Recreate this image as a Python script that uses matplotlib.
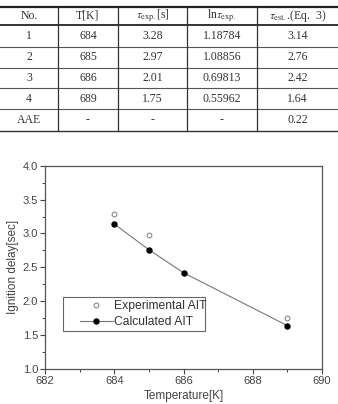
import matplotlib
matplotlib.use("Agg")
import matplotlib.pyplot as plt
from matplotlib.patches import Rectangle

# ---- data ----
col_headers = ["No.", "T[K]", r"$\tau_{\rm exp.}$[s]", r"ln$\tau_{\rm exp.}$", r"$\tau_{\rm est.}$.(Eq.  3)"]
row_no = ["1", "2", "3", "4", "AAE"]
row_T = ["684", "685", "686", "689", "-"]
row_tau_exp = ["3.28", "2.97", "2.01", "1.75", "-"]
row_ln_tau = ["1.18784", "1.08856", "0.69813", "0.55962", "-"]
row_tau_est = ["3.14", "2.76", "2.42", "1.64", "0.22"]

temp = [684, 685, 686, 689]
exp_ait = [3.28, 2.97, 2.01, 1.75]
calc_ait = [3.14, 2.76, 2.42, 1.64]
xticks = [682, 684, 686, 688, 690]
yticks = [1.0, 1.5, 2.0, 2.5, 3.0, 3.5, 4.0]

plt.rcParams['mathtext.fontset'] = 'stix'

W, H = 338, 404
fig = plt.figure(figsize=(W / 100, H / 100), dpi=100)

# ---- table (pixel coordinates) ----
tax = fig.add_axes([0, 0, 1, 1])
tax.set_xlim(0, W)
tax.set_ylim(H, 0)
tax.axis('off')

col_edges = [0, 58, 118, 187, 257, 338]
hline_y = [6.7, 24.7, 46.7, 67.7, 88.3, 109, 130.7]
tcol = '#333333'

tax.plot([0, W], [hline_y[0]] * 2, color='#222222', lw=1.6)
tax.plot([0, W], [hline_y[1]] * 2, color='#333333', lw=1.4)
for y in hline_y[2:-1]:
    tax.plot([0, W], [y, y], color='#555555', lw=0.8)
tax.plot([0, W], [hline_y[-1]] * 2, color='#333333', lw=1.0)
for x in col_edges[1:-1]:
    tax.plot([x, x], [hline_y[0], hline_y[-1]], color='#333333', lw=0.9)

centers = [(col_edges[i] + col_edges[i + 1]) / 2 for i in range(len(col_edges) - 1)]
font = dict(family='Liberation Serif', fontsize=8.5, color=tcol, ha='center', va='center')
hy = (hline_y[0] + hline_y[1]) / 2
for cx, h in zip(centers, col_headers):
    tax.text(cx, hy, h, **font)
rows = list(zip(row_no, row_T, row_tau_exp, row_ln_tau, row_tau_est))
for i, r in enumerate(rows):
    ry = (hline_y[i + 1] + hline_y[i + 2]) / 2
    for cx, v in zip(centers, r):
        tax.text(cx, ry, v, **font)

# ---- chart ----
plt.rcParams['font.family'] = ['Liberation Sans', 'DejaVu Sans']
ax = fig.add_axes([45 / W, 1 - 369 / H, (322 - 45) / W, (369 - 165.7) / H])
ax.plot(temp, exp_ait, linestyle='none', marker='o', markersize=3.4,
        markerfacecolor='white', markeredgecolor='#888888', markeredgewidth=0.8,
        label='Experimental AIT', zorder=3)
ax.plot(temp, calc_ait, color='#777777', lw=0.8, marker='o', markersize=3.6,
        markerfacecolor='black', markeredgecolor='black',
        label='Calculated AIT', zorder=3)

ax.set_xlim(682, 690)
ax.set_ylim(1.0, 4.0)
ax.set_xticks(xticks)
ax.set_yticks(yticks)
ax.set_xticks([683, 685, 687, 689], minor=True)
ax.set_yticks([1.25, 1.75, 2.25, 2.75, 3.25, 3.75], minor=True)
ax.set_yticklabels([f"{v:.1f}" for v in yticks])
ax.tick_params(which='major', direction='out', length=3.5, width=0.8,
               colors='#444444', labelsize=8, pad=1.5)
ax.tick_params(which='minor', direction='out', length=2, width=0.7, colors='#444444')
for s in ax.spines.values():
    s.set_color('#555555')
    s.set_linewidth(0.9)
ax.set_xlabel('Temperature[K]', fontsize=8.5, color='#444444', labelpad=3)
ax.set_ylabel('Ignition delay[sec]', fontsize=8.5, color='#444444', labelpad=3)

# legend box (white, covers points beneath it)
ax.add_patch(Rectangle((0.065, 0.187), 0.513, 0.167, transform=ax.transAxes,
                       facecolor='white', edgecolor='#666666', lw=0.8, zorder=4))
leg = ax.legend(loc='upper left', bbox_to_anchor=(0.126, 0.337),
                borderaxespad=0, borderpad=0, fontsize=8.7, frameon=False,
                handlelength=2.7, handletextpad=0.15, labelspacing=0.3)
leg.set_zorder(5)
for t in leg.get_texts():
    t.set_color('#333333')

fig.savefig('out.png', dpi=100)
